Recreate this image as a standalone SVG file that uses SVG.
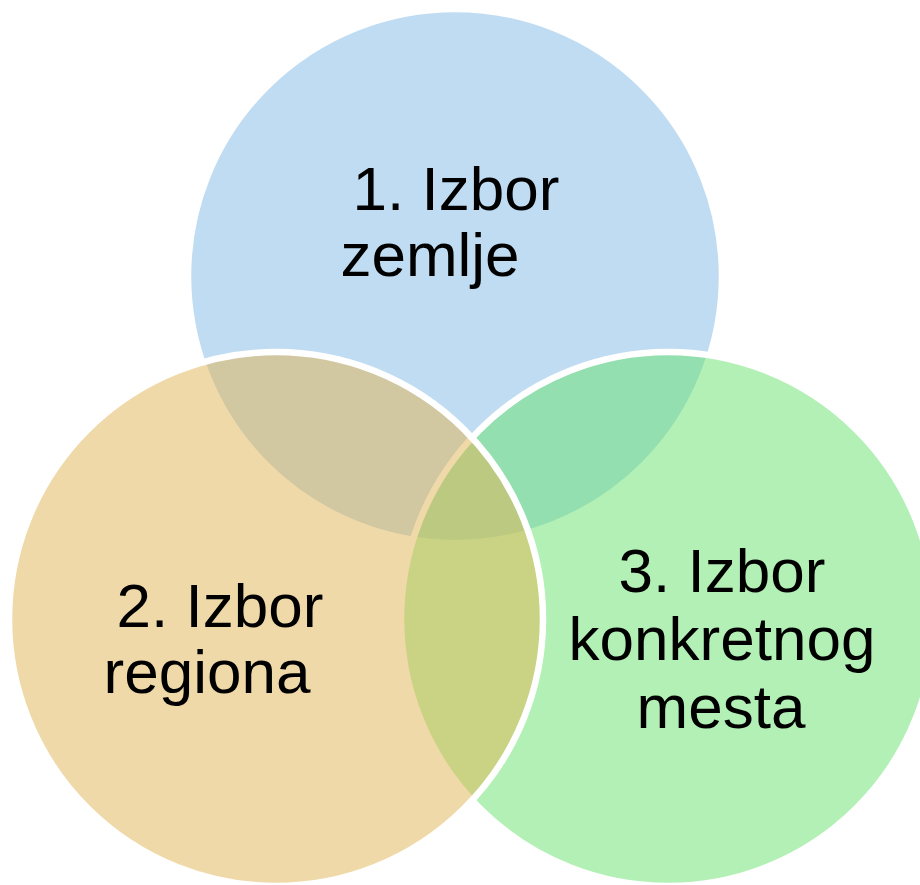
<svg xmlns="http://www.w3.org/2000/svg" width="920" height="885" viewBox="0 0 920 885">
<style>
.c{fill-opacity:0.5;stroke:#ffffff;stroke-width:6.5}
.t{font-family:"Liberation Sans",Arial,sans-serif;font-size:62px;fill:#000000;text-anchor:middle}
</style>
<rect width="920" height="885" fill="#ffffff"/>
<g id="node1">
<circle class="c" cx="455" cy="276" r="267" fill="#81b9e5"/>
</g>
<g id="node3">
<circle class="c" cx="668" cy="619" r="267" fill="#67e16d"/>
</g>
<g id="node2">
<circle class="c" cx="276" cy="619" r="267" fill="#e1b351"/>
</g>
<g id="connectors"></g>
<g id="labels">
<text class="t" x="456" y="210">1. Izbor</text>
<text class="t" x="430" y="276">zemlje</text>
<text class="t" x="220" y="627">2. Izbor</text>
<text class="t" x="207" y="693">regiona</text>
<text class="t" x="722" y="592">3. Izbor</text>
<text class="t" x="722" y="660">konkretnog</text>
<text class="t" x="721" y="728">mesta</text>
</g>
</svg>
